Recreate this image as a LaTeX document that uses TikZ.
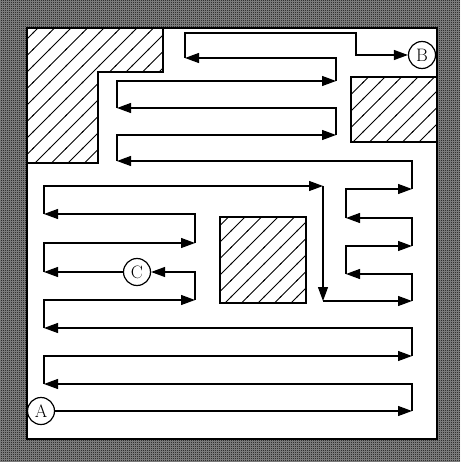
\documentclass[tikz,border=0pt]{standalone}
\usetikzlibrary{arrows.meta,patterns}

% fine checker for the outer wall
\pgfdeclarepatternformonly{finechecker}{\pgfpointorigin}{\pgfpoint{2pt}{2pt}}{\pgfpoint{2pt}{2pt}}{%
  \pgfpathrectangle{\pgfpointorigin}{\pgfpoint{1pt}{1pt}}%
  \pgfpathrectangle{\pgfpoint{1pt}{1pt}}{\pgfpoint{1pt}{1pt}}%
  \pgfusepath{fill}}
% diagonal hatch for the obstacles
\pgfdeclarepatternformonly{wallhatch}{\pgfpoint{-1pt}{-1pt}}{\pgfpoint{17.5pt}{17.5pt}}{\pgfpoint{16.5pt}{16.5pt}}{%
  \pgfsetlinewidth{0.8pt}%
  \pgfpathmoveto{\pgfpoint{-1pt}{-1pt}}%
  \pgfpathlineto{\pgfpoint{17.5pt}{17.5pt}}%
  \pgfusepath{stroke}}

\begin{document}
\begin{tikzpicture}[x=1pt, y=-1pt, >={Triangle[length=14pt,width=10pt]},
    wall/.style={draw=black, line width=1.5pt},
    block/.style={wall, pattern=wallhatch},
    route/.style={->, line width=1.2pt},
    stop/.style={circle, draw, line width=1.2pt, fill=white, minimum size=27pt,
      inner sep=0pt, font=\fontsize{18}{18}\selectfont}]
    \useasboundingbox (0,0) rectangle (460,462);

    % 1. Outer wall and free floor
    \fill[black!45] (0,0) rectangle (460,462);
    \fill[pattern=finechecker] (0,0) rectangle (460,462);
    \draw[wall, fill=white] (27,28) rectangle (437,439);

    % 2. Obstacles
    \draw[block] (27,28) -- (163,28) -- (163,72) -- (98,72) -- (98,163) -- (27,163) -- cycle;
    \draw[block] (351,77) rectangle (437,142);
    \draw[block] (220,217) rectangle (306,303);

    % 3. Stops
    \node[stop] (A) at (41,411) {A};
    \node[stop] (B) at (422,55) {B};
    \node[stop] (C) at (137,272) {C};

    % 4. Route from A, lower left part
    \draw[route] (A) -- (412,411);
    \draw[route] (412,411) |- (44,384);
    \draw[route] (44,384) |- (412,356);
    \draw[route] (412,356) |- (44,328);
    \draw[route] (44,328) |- (195,300);
    \draw[route] (195,300) |- (C);
    \draw[route] (C) -- (44,272);
    \draw[route] (44,272) |- (195,243);
    \draw[route] (195,243) |- (44,214);
    \draw[route] (44,214) |- (323,186);

    % 5. Down past the middle obstacle, then the right column
    \draw[route] (323,186) -- (323,301);
    \draw[route] (323,301) -- (412,301);
    \draw[route] (412,301) |- (346,274);
    \draw[route] (346,274) |- (412,246);
    \draw[route] (412,246) |- (346,218);
    \draw[route] (346,218) |- (412,189);

    % 6. Upper part, on to B
    \draw[route] (412,189) |- (117,161);
    \draw[route] (117,161) |- (336,135);
    \draw[route] (336,135) |- (117,108);
    \draw[route] (117,108) |- (336,81);
    \draw[route] (336,81) |- (185,58);
    \draw[route] (185,58) -- (185,33) -- (356,33) |- (B);

\end{tikzpicture}
\end{document}
